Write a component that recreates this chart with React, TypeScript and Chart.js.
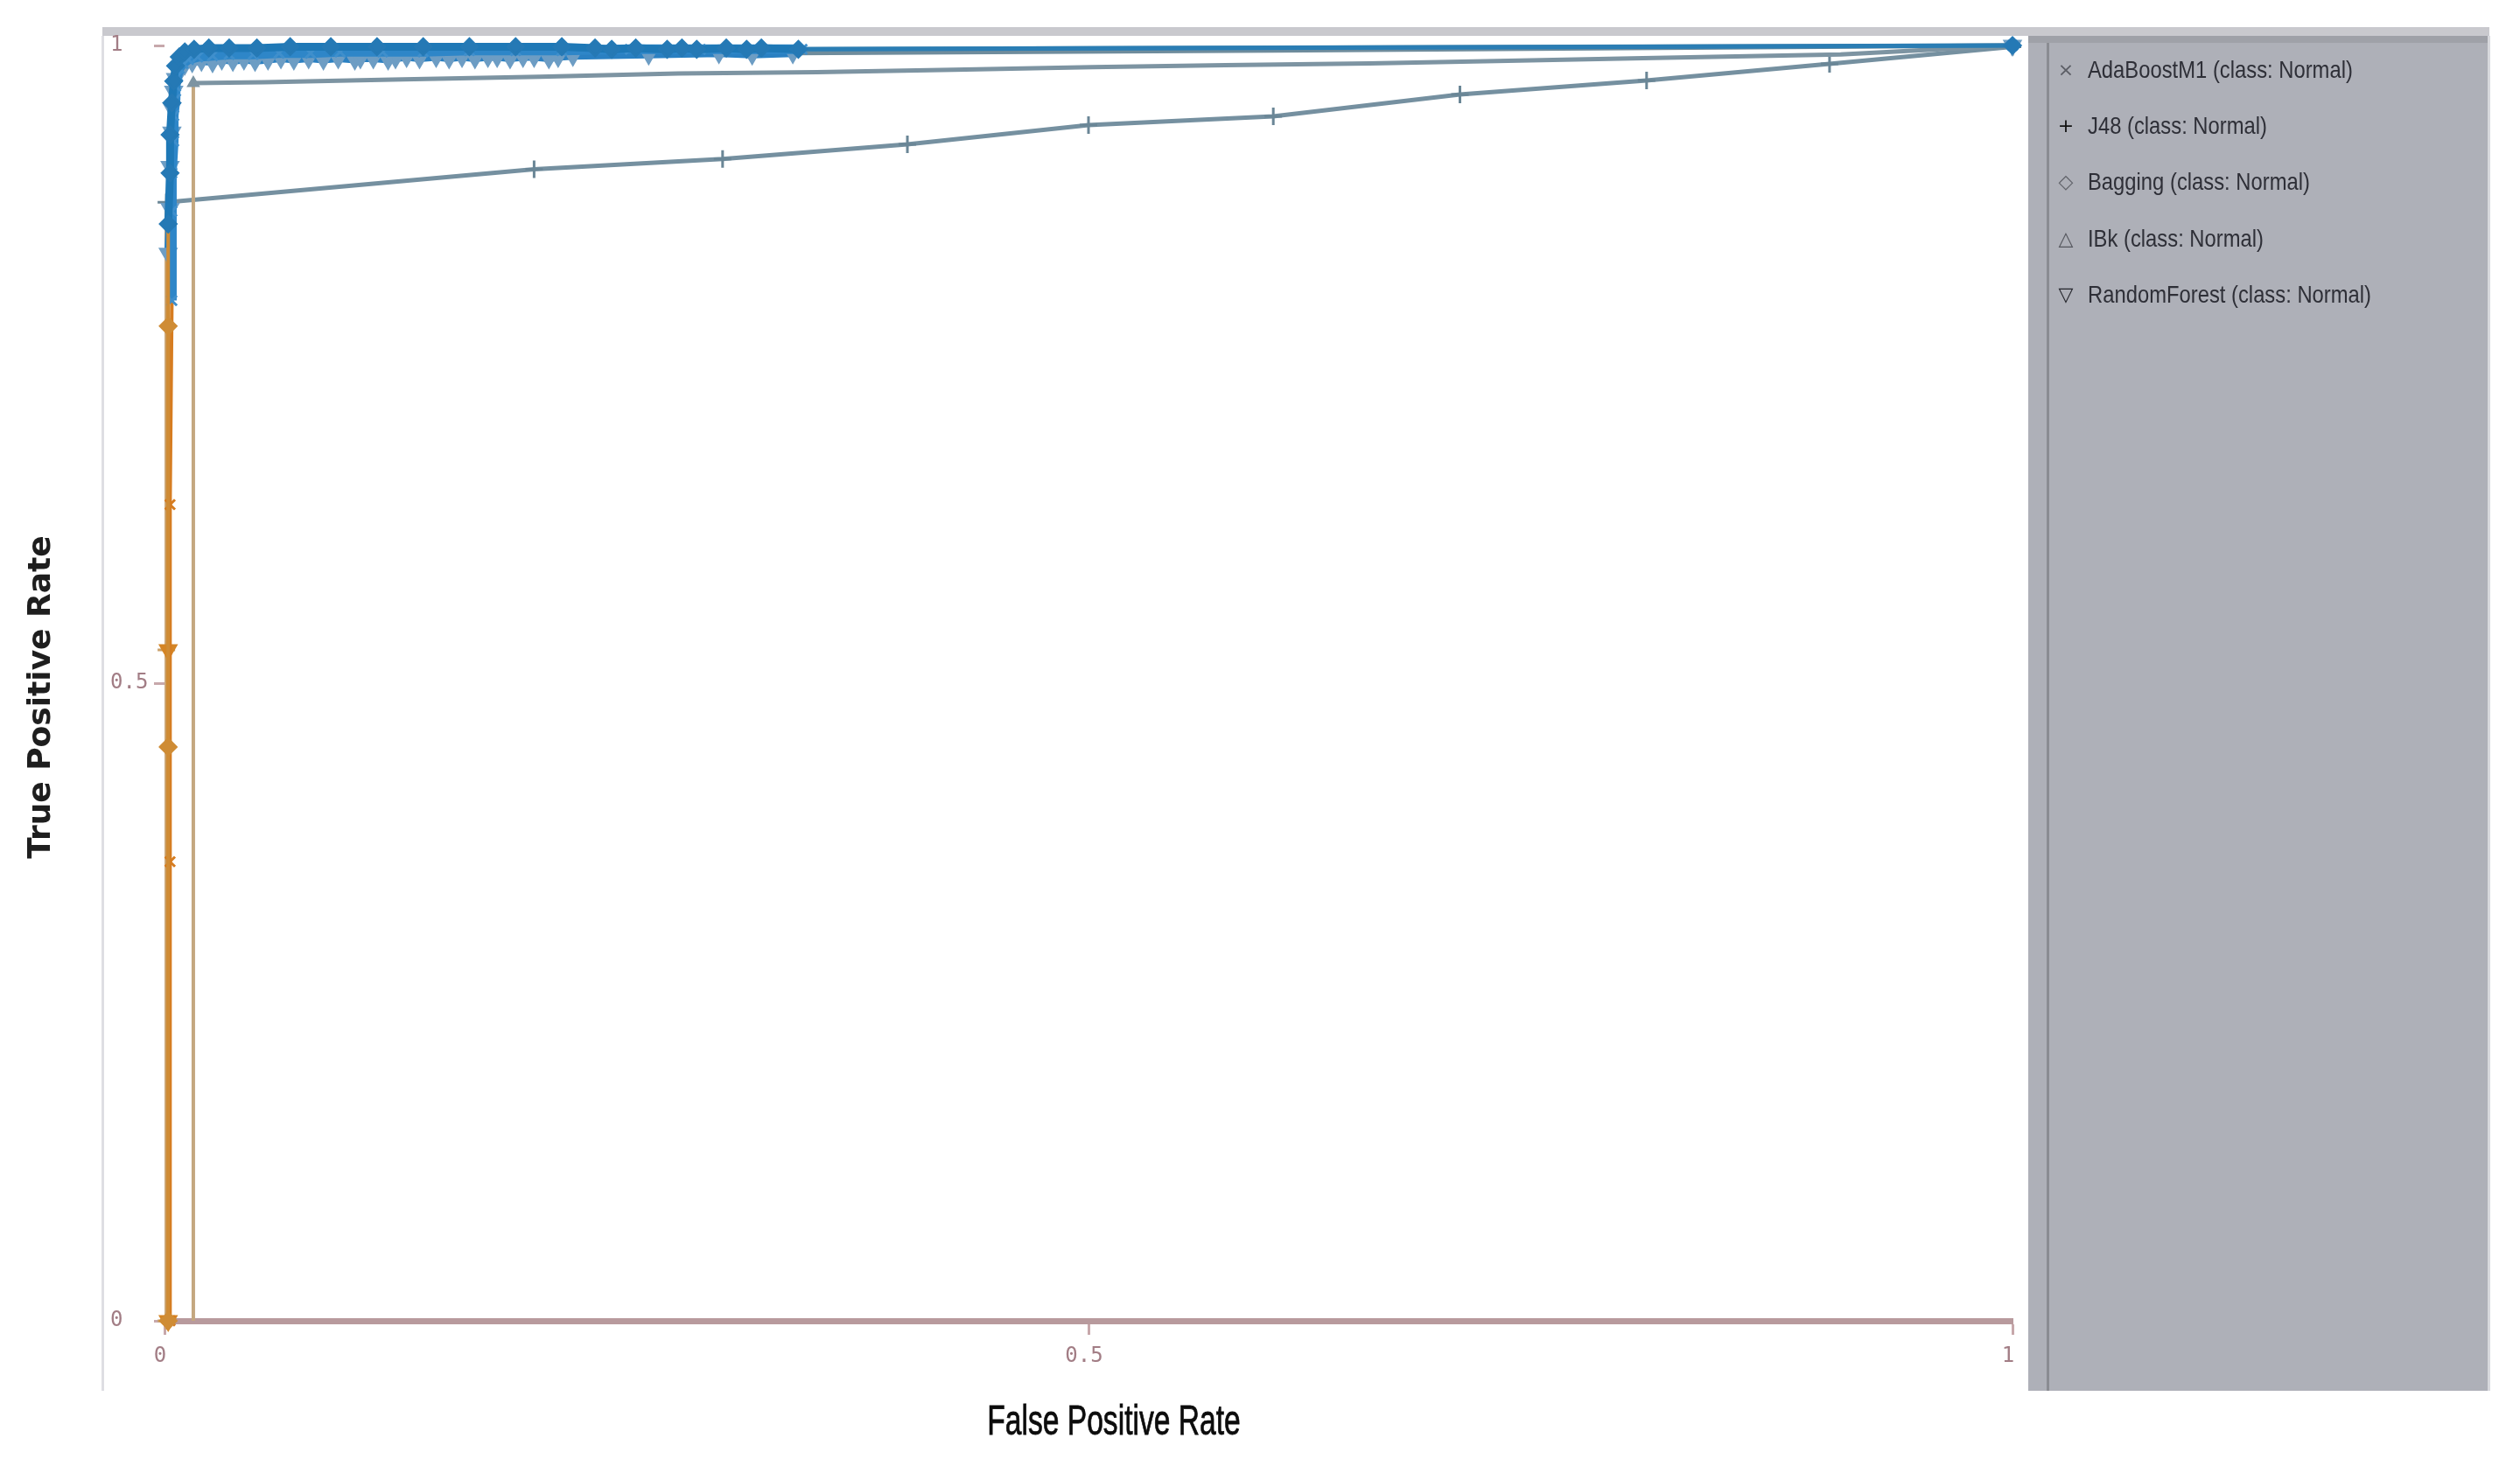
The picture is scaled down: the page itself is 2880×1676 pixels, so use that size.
import React, { useEffect, useRef } from 'react';
import { Chart, registerables } from 'chart.js';

Chart.register(...registerables);

// ---------------- data ----------------
const xTickValues = [0, 0.5, 1];
const yTickValues = [0, 0.5, 1];
const xAxisTitle = 'False Positive Rate';
const yAxisTitle = 'True Positive Rate';
const seriesLabels = [
  'AdaBoostM1 (class: Normal)',
  'J48 (class: Normal)',
  'Bagging (class: Normal)',
  'IBk (class: Normal)',
  'RandomForest (class: Normal)',
];
const legendMarks = ['×', '+', '◇', '△', '▽'];

// points are [False Positive Rate, True Positive Rate]
const adaBoostM1Roc: [number, number][] = [
  [0.003, 0], [0.003, 0.36], [0.003, 0.64], [0.004, 0.8], [0.004, 0.87], [0.004, 0.9],
  [0.005, 0.925], [0.005, 0.945], [0.006, 0.958], [0.006, 0.968], [0.007, 0.976],
  [0.008, 0.982], [0.01, 0.986], [0.013, 0.989], [0.018, 0.991], [0.026, 0.992],
  [0.035, 0.993], [0.048, 0.993], [0.062, 0.994], [0.079, 0.994], [0.095, 0.995],
  [0.118, 0.995], [0.14, 0.995], [0.165, 0.996], [0.19, 0.996], [0.215, 0.996],
  [0.252, 0.997], [0.29, 0.997], [0.345, 0.997], [0.52, 0.998], [0.76, 0.999], [1, 1],
];

const j48Roc: [number, number][] = [
  [0.001, 0], [0.001, 0.526], [0.001, 0.877], [0.2, 0.903], [0.302, 0.911], [0.402, 0.9225],
  [0.5, 0.9376], [0.6, 0.9444], [0.701, 0.9616], [0.802, 0.9726], [0.901, 0.9856], [1, 0.999],
];

const baggingRoc: [number, number][] = [
  [0.002, 0], [0.002, 0.45], [0.002, 0.78], [0.002, 0.86], [0.003, 0.9], [0.003, 0.93],
  [0.004, 0.955], [0.005, 0.972], [0.006, 0.984], [0.008, 0.991], [0.011, 0.995],
  [0.016, 0.997], [0.024, 0.998], [0.035, 0.998], [0.05, 0.998], [0.068, 0.999],
  [0.09, 0.999], [0.115, 0.999], [0.14, 0.999], [0.165, 0.999], [0.19, 0.999],
  [0.215, 0.999], [0.233, 0.998], [0.242, 0.997], [0.255, 0.998], [0.272, 0.997],
  [0.28, 0.998], [0.288, 0.997], [0.304, 0.998], [0.315, 0.997], [0.323, 0.998],
  [0.343, 0.997], [0.55, 0.998], [0.8, 0.999], [1, 1],
];

const ibkRoc: [number, number][] = [
  [0.0156, 0], [0.0156, 0.62], [0.0156, 0.9705], [0.054, 0.9712], [0.129, 0.9735],
  [0.203, 0.9755], [0.278, 0.978], [0.353, 0.979], [0.427, 0.981], [0.502, 0.983],
  [0.574, 0.9845], [0.652, 0.986], [0.727, 0.988], [0.8, 0.99], [0.907, 0.993], [1, 1],
];

const randomForestRoc: [number, number][] = [
  [0.002, 0], [0.002, 0.526], [0.002, 0.837], [0.003, 0.872], [0.003, 0.905], [0.004, 0.932],
  [0.004, 0.951], [0.005, 0.964], [0.006, 0.974], [0.008, 0.981], [0.011, 0.985],
  [0.015, 0.987], [0.02, 0.988], [0.026, 0.987], [0.031, 0.989], [0.037, 0.988],
  [0.043, 0.989], [0.049, 0.988], [0.056, 0.989], [0.063, 0.99], [0.07, 0.989],
  [0.078, 0.99], [0.086, 0.989], [0.094, 0.99], [0.103, 0.989], [0.106, 0.99],
  [0.113, 0.99], [0.121, 0.989], [0.125, 0.99], [0.131, 0.991], [0.138, 0.99],
  [0.147, 0.991], [0.154, 0.99], [0.161, 0.991], [0.168, 0.99], [0.175, 0.991],
  [0.18, 0.991], [0.187, 0.99], [0.194, 0.991], [0.2, 0.991], [0.208, 0.99],
  [0.213, 0.991], [0.221, 0.992], [0.262, 0.993], [0.3, 0.994], [0.318, 0.993],
  [0.34, 0.994], [0.6, 0.996], [1, 1],
];

// ---------------- styling ----------------
const lineColors = ['#2e86c8', '#7590a0', '#1e78b6', '#7d94a2', '#2a80c2'];
const markColors = ['#3f8fcc', '#6a8696', '#2579b5', '#7d94a2', '#6d9dc4'];
const tailColors = ['#5b8eac', '#7590a0', '#2a7db4', '#7d94a2', '#6f8c9c'];
const lowColors = ['#d67c20', '#c9a06a', '#cf8c35', '#c4a77f', '#d48526'];
const legendMarkColors = ['#5c5e66', '#111111', '#62646b', '#55575e', '#25262c'];

const W = 2880;
const H = 1676;

const framePlugin = {
  id: 'rocFrame',
  beforeDraw(chart: any) {
    const { ctx } = chart;
    ctx.save();
    ctx.fillStyle = '#ffffff';
    ctx.fillRect(0, 0, W, H);
    ctx.fillStyle = '#c9c9ce';
    ctx.fillRect(117, 31, 2728, 10);
    ctx.fillStyle = '#dedee3';
    ctx.fillRect(116, 41, 3, 1549);
    ctx.fillStyle = '#aeb0b8';
    ctx.fillRect(2318, 41, 527, 1549);
    ctx.fillStyle = '#9fa1a8';
    ctx.fillRect(2318, 41, 527, 8);
    ctx.fillStyle = '#8a8c92';
    ctx.fillRect(2339, 49, 3, 1541);
    ctx.fillStyle = '#d8d9de';
    ctx.fillRect(2843, 41, 3, 1549);
    ctx.restore();
  },
  afterDraw(chart: any) {
    const { ctx } = chart;
    ctx.save();
    seriesLabels.forEach((label, i) => {
      const y = 81 + i * 64.3;
      ctx.fillStyle = legendMarkColors[i];
      ctx.font = '22px "DejaVu Sans"';
      ctx.textAlign = 'center';
      ctx.textBaseline = 'middle';
      ctx.fillText(legendMarks[i], 2361, y);
      ctx.save();
      ctx.translate(2386, y);
      ctx.scale(0.85, 1);
      ctx.font = '28px "Liberation Sans"';
      ctx.textAlign = 'left';
      ctx.fillStyle = '#2e2f37';
      ctx.fillText(label, 0, 0);
      ctx.restore();
    });

    ctx.save();
    ctx.translate(1273, 1627);
    ctx.scale(0.7, 1);
    ctx.font = '48px "Liberation Sans"';
    ctx.textAlign = 'center';
    ctx.textBaseline = 'middle';
    ctx.fillStyle = '#0c0c0c';
    ctx.lineWidth = 0.8;
    ctx.strokeStyle = '#0c0c0c';
    ctx.fillText(xAxisTitle, 0, 0);
    ctx.strokeText(xAxisTitle, 0, 0);
    ctx.restore();

    ctx.save();
    ctx.translate(48, 797);
    ctx.rotate(-Math.PI / 2);
    ctx.font = 'bold 36px "DejaVu Sans"';
    ctx.textAlign = 'center';
    ctx.textBaseline = 'middle';
    ctx.fillStyle = '#1e1e1e';
    ctx.fillText(yAxisTitle, 0, 0);
    ctx.restore();
    ctx.restore();
  },
};

interface DsOpts {
  pointStyle: string;
  radius: number;
  rotation: number;
  order: number;
  width: number;
  markerOnlyAtIndex?: number;
  denseHead?: boolean;
}

function makeDataset(idx: number, pts: [number, number][], o: DsOpts) {
  return {
    label: seriesLabels[idx],
    data: pts.map(([x, y]) => ({ x, y })),
    borderColor: lineColors[idx],
    borderWidth: o.width,
    pointStyle: o.pointStyle,
    pointRadius: (c: any) => {
      if (o.markerOnlyAtIndex !== undefined) return c.dataIndex === o.markerOnlyAtIndex ? o.radius : 0;
      if (o.denseHead) {
        const x = c.raw ? c.raw.x : 0;
        return x > 0.4 && x < 1 ? 0 : o.radius;
      }
      return o.radius;
    },
    pointRotation: o.rotation,
    pointBorderWidth: 3,
    pointBackgroundColor: (c: any) => (c.raw && c.raw.y < 0.8 ? lowColors[idx] : markColors[idx]),
    pointBorderColor: (c: any) => (c.raw && c.raw.y < 0.8 ? lowColors[idx] : markColors[idx]),
    segment: {
      borderColor: (c: any) => {
        if (Math.min(c.p0.parsed.y, c.p1.parsed.y) < 0.8) return lowColors[idx];
        if (o.denseHead && c.p0.parsed.x >= 0.34) return tailColors[idx];
        return undefined;
      },
      borderWidth: (c: any) => {
        if (Math.min(c.p0.parsed.y, c.p1.parsed.y) < 0.8) return 4;
        if (o.denseHead && c.p0.parsed.x >= 0.34) return 5;
        return undefined;
      },
    },
    fill: false,
    tension: 0,
    clip: false,
    order: o.order,
  };
}

export default function App() {
  const canvasRef = useRef<HTMLCanvasElement | null>(null);

  useEffect(() => {
    if (!canvasRef.current) return;
    const tickFont = { family: '"DejaVu Sans Mono", monospace', size: 24 };
    const chart = new Chart(canvasRef.current, {
      type: 'line',
      data: {
        datasets: [
          makeDataset(0, adaBoostM1Roc, { pointStyle: 'crossRot', radius: 8, rotation: 0, order: 2, width: 11, denseHead: true }) as any,
          makeDataset(1, j48Roc, { pointStyle: 'cross', radius: 10, rotation: 0, order: 5, width: 5 }) as any,
          makeDataset(2, baggingRoc, { pointStyle: 'rectRot', radius: 9, rotation: 0, order: 1, width: 9, denseHead: true }) as any,
          makeDataset(3, ibkRoc, { pointStyle: 'triangle', radius: 6, rotation: 0, order: 4, width: 5, markerOnlyAtIndex: 2 }) as any,
          makeDataset(4, randomForestRoc, { pointStyle: 'triangle', radius: 10, rotation: 180, order: 3, width: 9, denseHead: true }) as any,
        ],
      },
      options: {
        responsive: false,
        animation: false,
        events: [],
        layout: { padding: { left: 126, top: 52, right: 580, bottom: 0 } },
        plugins: {
          legend: { display: false },
          tooltip: { enabled: false },
          title: { display: false },
        },
        scales: {
          x: {
            type: 'linear',
            min: 0,
            max: 1,
            afterFit: (s: any) => {
              s.height = 166;
            },
            afterBuildTicks: (s: any) => {
              s.ticks = xTickValues.map((v) => ({ value: v }));
            },
            ticks: {
              font: tickFont,
              color: '#a27d85',
              padding: 10,
              maxRotation: 0,
              autoSkip: false,
              labelOffset: -5,
              callback: (v: any) => String(v),
            },
            grid: {
              display: true,
              drawOnChartArea: false,
              drawTicks: true,
              tickLength: 16,
              tickWidth: 3,
              tickColor: '#c7a8ab',
            },
            border: { display: true, color: '#b89a9d', width: 7 },
          },
          y: {
            type: 'linear',
            min: 0,
            max: 1,
            afterFit: (s: any) => {
              s.width = 62;
            },
            afterBuildTicks: (s: any) => {
              s.ticks = yTickValues.map((v) => ({ value: v }));
            },
            ticks: {
              font: tickFont,
              color: '#a27d85',
              crossAlign: 'far',
              padding: 6,
              autoSkip: false,
              callback: (v: any) => String(v),
            },
            grid: {
              display: true,
              drawOnChartArea: false,
              drawTicks: true,
              tickLength: 12,
              tickWidth: 3,
              tickColor: '#c7a8ab',
            },
            border: { display: false },
          },
        },
      },
      plugins: [framePlugin],
    } as any);
    return () => chart.destroy();
  }, []);

  return (
    <div style={{ position: 'absolute', left: 0, top: 0, width: W, height: H }}>
      <canvas ref={canvasRef} width={W} height={H} style={{ display: 'block', width: W, height: H }} />
    </div>
  );
}
